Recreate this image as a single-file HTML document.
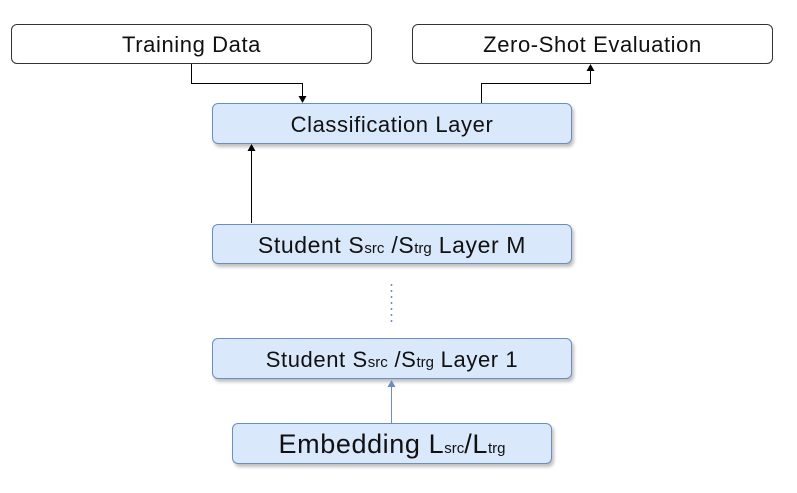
<!DOCTYPE html>
<html><head><meta charset="utf-8"><style>
body{margin:0;width:797px;height:493px;background:#fff;position:relative;overflow:hidden;font-family:"Liberation Sans",Arial,sans-serif;color:#111}
.b{position:absolute;box-sizing:border-box;border-radius:6px;display:flex;align-items:center;justify-content:center;white-space:nowrap;letter-spacing:0.6px;padding-top:2px}
.w{background:#fff;border:1px solid #333}
.bl{background:#dae8fc;border:1px solid #6c8ebf;box-shadow:2px 3px 3px rgba(0,0,0,0.25)}
small{font-size:15px;letter-spacing:0}
</style></head><body>
<div class="b w" style="left:11px;top:24px;width:361px;height:40px;font-size:22px"><span>Training Data</span></div>
<div class="b w" style="left:412px;top:24px;width:361px;height:40px;font-size:22px"><span>Zero-Shot Evaluation</span></div>
<div class="b bl" style="left:212px;top:103px;width:360px;height:41px;font-size:22px"><span>Classification Layer</span></div>
<div class="b bl" style="left:212px;top:224px;width:360px;height:40px;font-size:23px"><span>Student S<small>src</small> /S<small>trg</small> Layer M</span></div>
<div class="b bl" style="left:212px;top:338px;width:360px;height:41px;font-size:22px"><span>Student S<small>src</small> /S<small>trg</small> Layer 1</span></div>
<div class="b bl" style="left:232px;top:423px;width:320px;height:41px;font-size:27px"><span>Embedding L<small>src</small>/L<small>trg</small></span></div>
<svg width="797" height="493" style="position:absolute;left:0;top:0">
<g fill="none" stroke="#000" stroke-width="1">
<polyline points="191.5,64 191.5,83.5 302.5,83.5 302.5,97"/>
<polyline points="481.5,103 481.5,83.5 590.5,83.5 590.5,70"/>
<line x1="251.5" y1="223" x2="251.5" y2="150"/>
</g>
<g fill="#000">
<polygon points="298.5,96 306.5,96 302.5,103"/>
<polygon points="586.5,71 594.5,71 590.5,64"/>
<polygon points="247.5,151 255.5,151 251.5,144"/>
</g>
<line x1="391.5" y1="284" x2="391.5" y2="322" stroke="#6c8ebf" stroke-width="1.5" stroke-dasharray="2,4"/>
<line x1="391.5" y1="423" x2="391.5" y2="386" stroke="#6c8ebf" stroke-width="1"/>
<polygon points="387.5,387 395.5,387 391.5,380" fill="#6c8ebf"/>
</svg>
</body></html>
